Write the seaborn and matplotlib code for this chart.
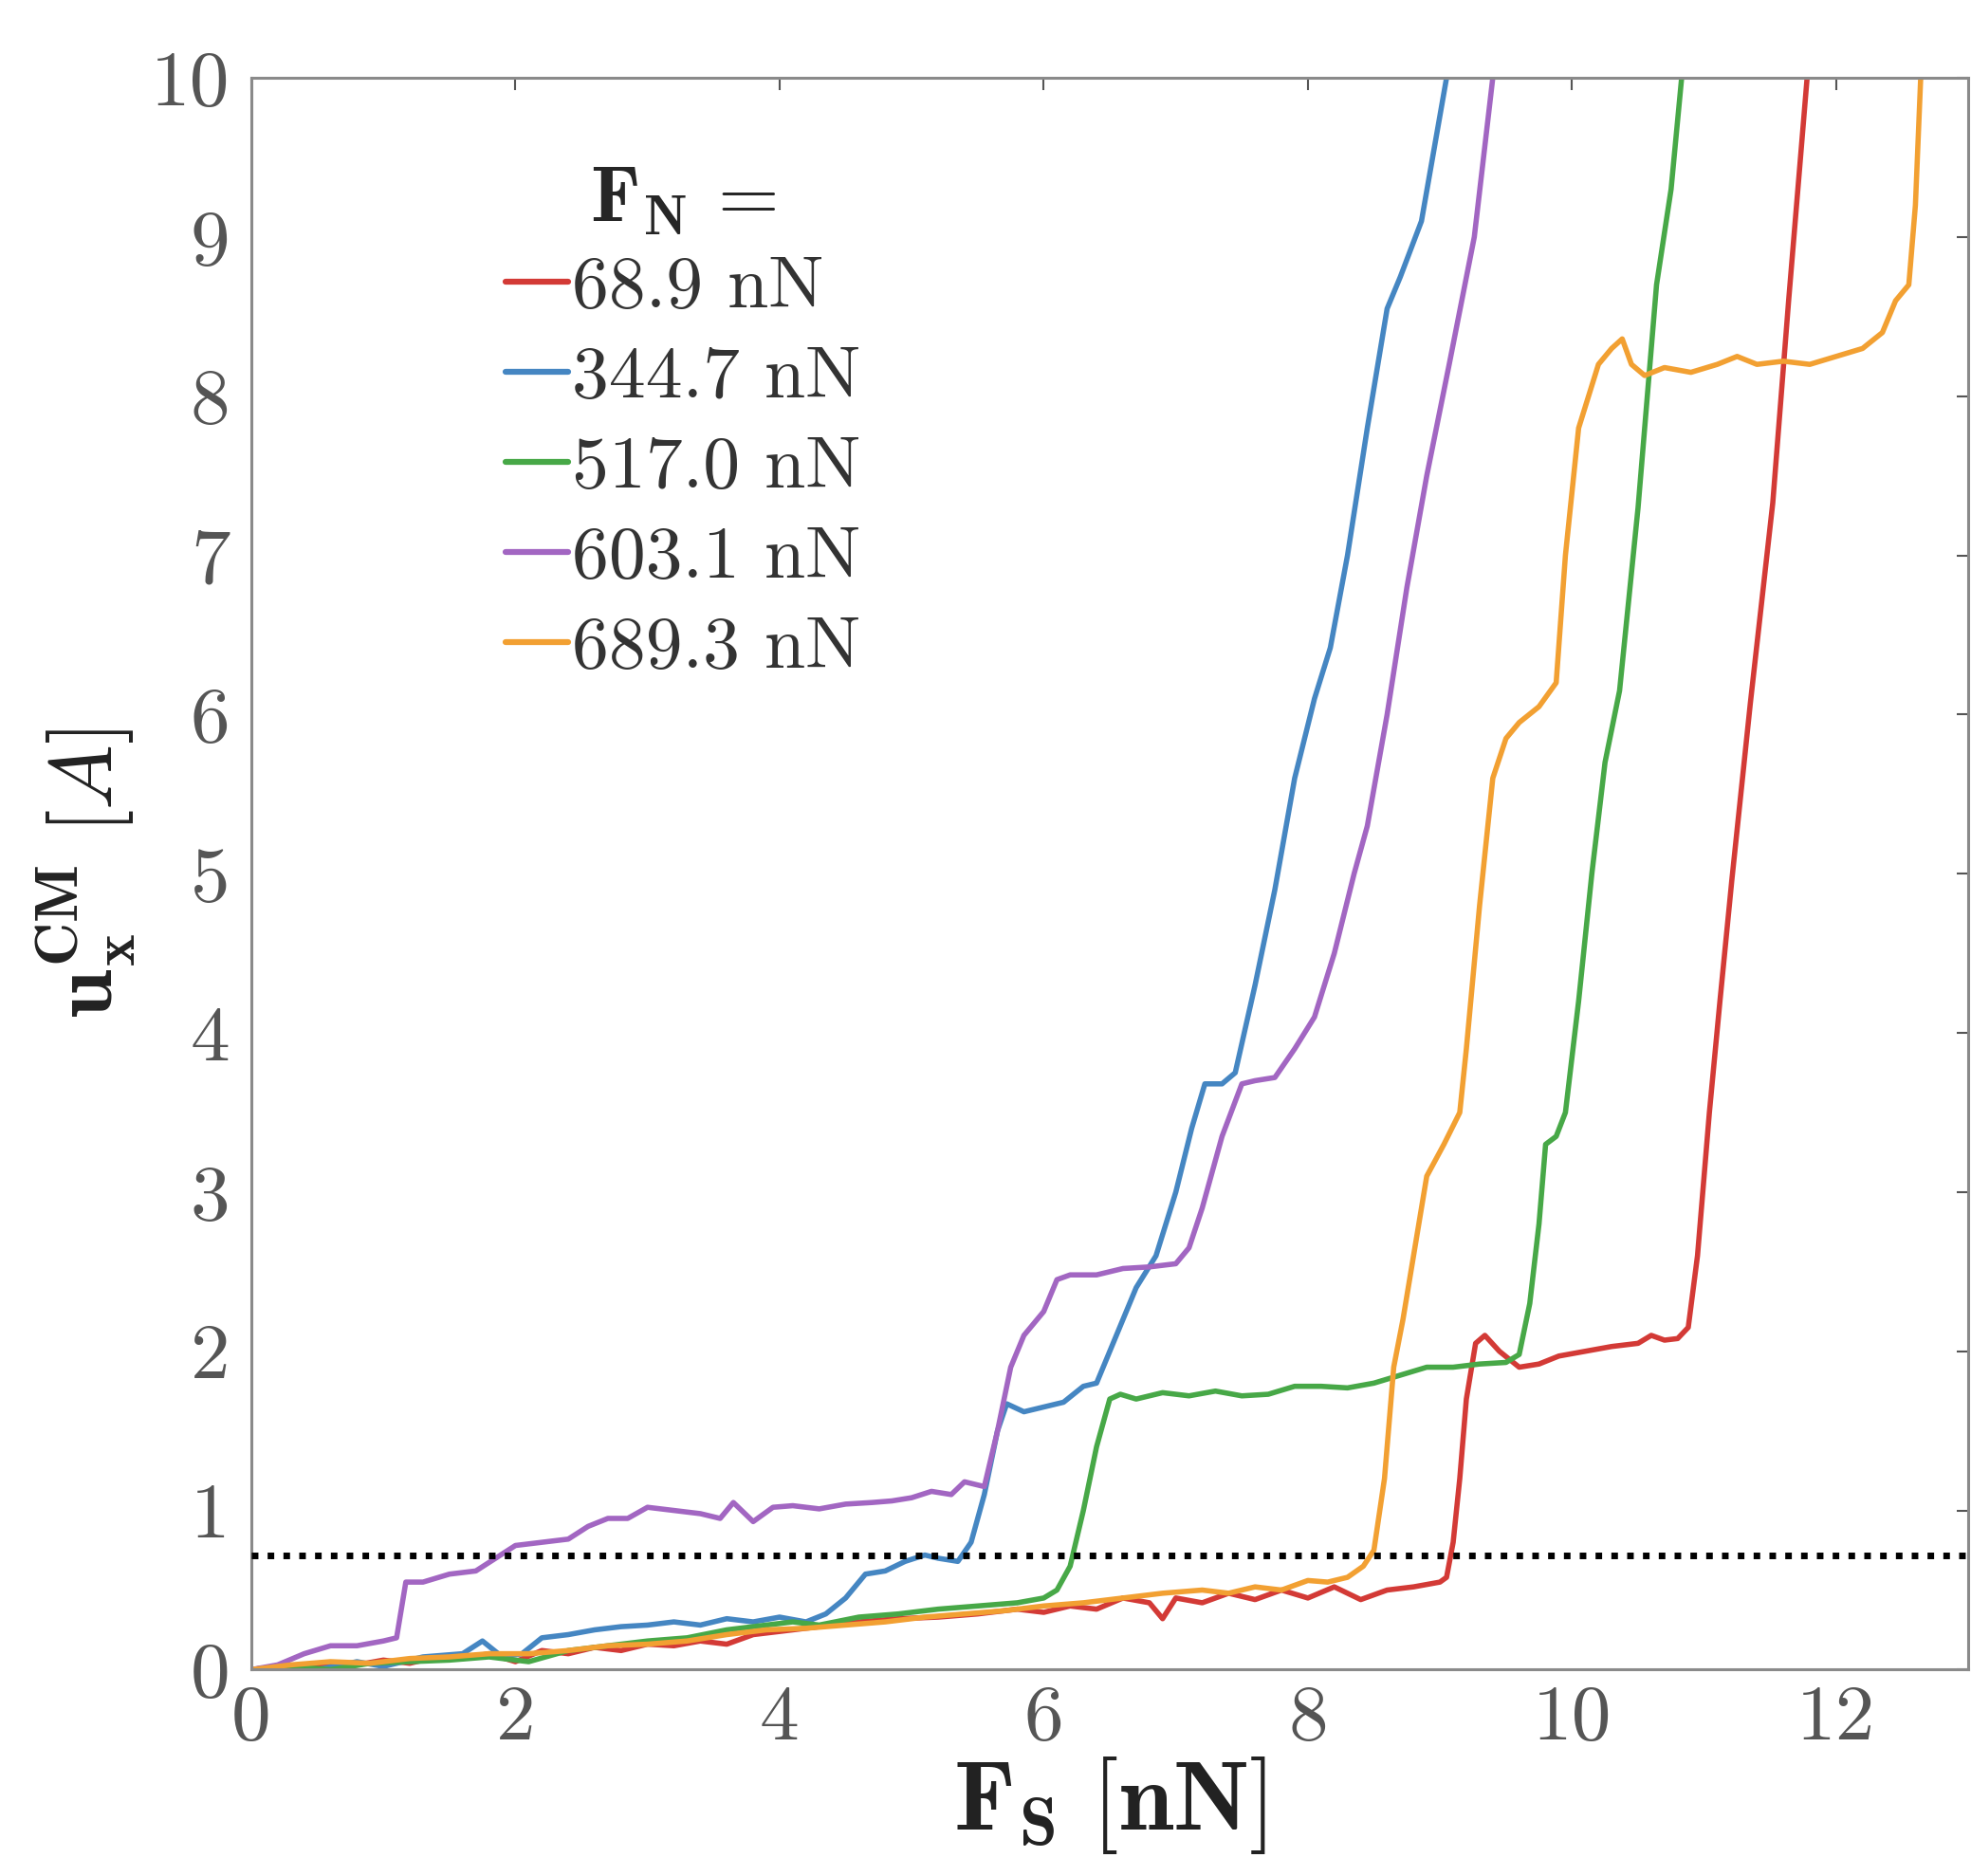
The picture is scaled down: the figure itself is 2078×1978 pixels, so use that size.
import pandas as pd
import seaborn as sns
import matplotlib
matplotlib.use('Agg')
import matplotlib.pyplot as plt

#///// Data
labels = ['68.9 nN', '344.7 nN', '517.0 nN', '603.1 nN', '689.3 nN']
colors = ['#d33a36', '#4586c2', '#47a847', '#a266c2', '#f2a032']
threshold = 0.72

x_red = [0, 0.2, 0.4, 0.6, 0.8, 1.0, 1.2, 1.4, 1.6, 1.8, 2.0, 2.2, 2.4, 2.6, 2.8, 3.0, 3.2, 3.4, 3.6, 3.8,
         4.0, 4.3, 4.6, 4.9, 5.2, 5.5, 5.8, 6.0, 6.2, 6.4, 6.6, 6.8, 6.9, 7.0, 7.2, 7.4, 7.6, 7.8, 8.0, 8.2,
         8.4, 8.6, 8.8, 9.0, 9.05, 9.1, 9.15, 9.2, 9.27, 9.34, 9.45, 9.6, 9.75, 9.9, 10.1, 10.3, 10.5, 10.6,
         10.7, 10.8, 10.88, 10.95, 11.04, 11.12, 11.21, 11.35, 11.52, 11.64, 11.78, 11.8]
y_red = [0, 0.02, 0.01, 0.04, 0.03, 0.06, 0.04, 0.08, 0.07, 0.1, 0.05, 0.12, 0.1, 0.14, 0.12, 0.16, 0.15, 0.18, 0.16, 0.22,
         0.24, 0.27, 0.3, 0.32, 0.33, 0.35, 0.38, 0.36, 0.4, 0.38, 0.45, 0.42, 0.32, 0.45, 0.42, 0.48, 0.44, 0.5, 0.45, 0.52,
         0.44, 0.5, 0.52, 0.55, 0.58, 0.8, 1.2, 1.7, 2.05, 2.1, 2.0, 1.9, 1.92, 1.97, 2.0, 2.03, 2.05, 2.1,
         2.07, 2.08, 2.15, 2.6, 3.5, 4.2, 4.96, 6.07, 7.33, 8.6, 10.0, 10.2]

x_blue = [0, 0.2, 0.5, 0.8, 1.0, 1.3, 1.6, 1.75, 1.9, 2.05, 2.2, 2.4, 2.6, 2.8, 3.0, 3.2, 3.4, 3.6, 3.8, 4.0,
          4.2, 4.35, 4.5, 4.65, 4.8, 4.95, 5.1, 5.2, 5.35, 5.45, 5.55, 5.65, 5.72, 5.85, 6.0, 6.15, 6.3, 6.4,
          6.55, 6.7, 6.85, 7.0, 7.12, 7.22, 7.35, 7.45, 7.6, 7.75, 7.9, 8.05, 8.17, 8.3, 8.45, 8.6, 8.7, 8.86,
          9.05, 9.1]
y_blue = [0, 0.02, 0.0, 0.05, 0.02, 0.08, 0.1, 0.18, 0.08, 0.1, 0.2, 0.22, 0.25, 0.27, 0.28, 0.3, 0.28, 0.32, 0.3, 0.33,
          0.3, 0.35, 0.45, 0.6, 0.62, 0.68, 0.72, 0.7, 0.68, 0.8, 1.1, 1.5, 1.67, 1.62, 1.65, 1.68, 1.78, 1.8,
          2.1, 2.4, 2.6, 3.0, 3.4, 3.68, 3.68, 3.75, 4.3, 4.9, 5.6, 6.1, 6.42, 7.0, 7.8, 8.55, 8.75, 9.1,
          10.0, 10.3]

x_green = [0, 0.3, 0.6, 0.9, 1.2, 1.5, 1.8, 2.1, 2.4, 2.7, 3.0, 3.3, 3.6, 3.9, 4.1, 4.3, 4.6, 4.9, 5.2, 5.5,
           5.8, 6.0, 6.1, 6.2, 6.3, 6.4, 6.5, 6.58, 6.7, 6.9, 7.1, 7.3, 7.5, 7.7, 7.9, 8.1, 8.3, 8.5, 8.7, 8.9,
           9.1, 9.3, 9.5, 9.6, 9.68, 9.75, 9.8, 9.88, 9.95, 10.05, 10.15, 10.25, 10.36, 10.5, 10.64, 10.75, 10.83, 10.86]
y_green = [0, 0.02, 0.0, 0.04, 0.05, 0.06, 0.08, 0.05, 0.12, 0.15, 0.18, 0.2, 0.25, 0.28, 0.3, 0.28, 0.33, 0.35, 0.38, 0.4,
           0.42, 0.45, 0.5, 0.65, 1.0, 1.4, 1.7, 1.73, 1.7, 1.74, 1.72, 1.75, 1.72, 1.73, 1.78, 1.78, 1.77, 1.8, 1.85, 1.9,
           1.9, 1.92, 1.93, 1.98, 2.3, 2.8, 3.3, 3.35, 3.5, 4.2, 5.0, 5.7, 6.15, 7.3, 8.7, 9.3, 10.0, 10.2]

x_purple = [0, 0.2, 0.4, 0.6, 0.8, 1.0, 1.1, 1.17, 1.3, 1.5, 1.7, 1.85, 2.0, 2.2, 2.4, 2.55, 2.7, 2.85, 3.0, 3.2,
            3.4, 3.55, 3.65, 3.8, 3.95, 4.1, 4.3, 4.5, 4.7, 4.85, 5.0, 5.15, 5.3, 5.4, 5.55, 5.65, 5.75, 5.85, 6.0, 6.1,
            6.2, 6.4, 6.6, 6.8, 7.0, 7.1, 7.2, 7.35, 7.5, 7.6, 7.75, 7.9, 8.05, 8.2, 8.35, 8.45, 8.6, 8.75, 8.9, 9.07,
            9.26, 9.4, 9.45]
y_purple = [0, 0.03, 0.1, 0.15, 0.15, 0.18, 0.2, 0.55, 0.55, 0.6, 0.62, 0.7, 0.78, 0.8, 0.82, 0.9, 0.95, 0.95, 1.02, 1.0,
            0.98, 0.95, 1.05, 0.93, 1.02, 1.03, 1.01, 1.04, 1.05, 1.06, 1.08, 1.12, 1.1, 1.18, 1.15, 1.5, 1.9, 2.1, 2.25, 2.45,
            2.48, 2.48, 2.52, 2.53, 2.55, 2.65, 2.9, 3.35, 3.68, 3.7, 3.72, 3.9, 4.1, 4.5, 5.0, 5.3, 6.0, 6.8, 7.5, 8.2,
            9.0, 10.0, 10.3]

x_orange = [0, 0.3, 0.6, 0.9, 1.2, 1.5, 1.8, 2.1, 2.4, 2.7, 3.0, 3.3, 3.6, 3.9, 4.2, 4.5, 4.8, 5.1, 5.4, 5.7,
            6.0, 6.3, 6.6, 6.9, 7.2, 7.4, 7.6, 7.8, 8.0, 8.15, 8.3, 8.42, 8.5, 8.58, 8.65, 8.72, 8.8, 8.9, 9.03, 9.15,
            9.2, 9.3, 9.4, 9.5, 9.6, 9.75, 9.88, 9.95, 10.05, 10.2, 10.3, 10.38, 10.45, 10.55, 10.7, 10.9, 11.1, 11.25,
            11.4, 11.6, 11.8, 12.0, 12.2, 12.35, 12.45, 12.55, 12.6, 12.64, 12.66]
y_orange = [0, 0.03, 0.05, 0.04, 0.07, 0.08, 0.1, 0.1, 0.12, 0.15, 0.16, 0.18, 0.22, 0.25, 0.26, 0.28, 0.3, 0.33, 0.35, 0.37,
            0.4, 0.42, 0.45, 0.48, 0.5, 0.48, 0.52, 0.5, 0.56, 0.55, 0.58, 0.65, 0.75, 1.2, 1.9, 2.2, 2.6, 3.1, 3.3, 3.5,
            3.9, 4.8, 5.6, 5.85, 5.95, 6.05, 6.2, 7.0, 7.8, 8.2, 8.3, 8.36, 8.2, 8.13, 8.18, 8.15, 8.2, 8.25,
            8.2, 8.22, 8.2, 8.25, 8.3, 8.4, 8.6, 8.7, 9.2, 10.0, 10.3]

series_x = [x_red, x_blue, x_green, x_purple, x_orange]
series_y = [y_red, y_blue, y_green, y_purple, y_orange]

#///// Long-form table for seaborn
frames = []
for lab, xs, ys in zip(labels, series_x, series_y):
    frames.append(pd.DataFrame({'Fs': xs, 'u': ys, 'FN': lab}))
df = pd.concat(frames, ignore_index=True)

#///// Style
sns.set_theme(style='white')
plt.rcParams['font.family'] = ['cmr10', 'DejaVu Serif']
plt.rcParams['mathtext.fontset'] = 'cm'
plt.rcParams['axes.formatter.use_mathtext'] = True
grey = '#555555'

fig = plt.figure(figsize=(20.78, 19.78), dpi=100)
ax = fig.add_axes([0.1275, 0.110, 0.8711, 0.8485])

sns.lineplot(data=df, x='Fs', y='u', hue='FN', hue_order=labels,
             palette=dict(zip(labels, colors)), sort=False, estimator=None,
             linewidth=4.0, ax=ax)

# threshold line
ax.axhline(threshold, color='black', linestyle=(0, (1, 1.4)), linewidth=5.0, zorder=5)

# axes
ax.set_xlim(0, 13)
ax.set_ylim(0, 10)
ax.set_xticks([0, 2, 4, 6, 8, 10, 12])
ax.set_yticks(range(0, 11))
ax.set_xticklabels(['0', '2', '4', '6', '8', '10', '12'])
ax.set_yticklabels([str(i) for i in range(11)])
ax.tick_params(axis='both', which='both', direction='in', length=9, width=1.5,
               colors=grey, labelsize=60, top=True, right=True)
ax.tick_params(axis='x', pad=12)
ax.tick_params(axis='y', pad=16)
for s in ax.spines.values():
    s.set_color('#8a8a8a')
    s.set_linewidth(2.2)

ax.set_xlabel(r'$\mathbf{F_S}\ [\mathbf{nN}]$', fontsize=74, color='#222222', labelpad=0)
ax.set_ylabel(r'$\mathbf{u_x^{CM}}\ [A]$', fontsize=66, color='#222222', labelpad=10)

# legend
leg = ax.legend(title=r'$\mathbf{F_N}\,=$', loc='upper left', bbox_to_anchor=(0.148, 0.945),
                frameon=False, fontsize=56, title_fontsize=60, handlelength=0.85,
                handletextpad=0.05, labelspacing=0.33, borderpad=0, borderaxespad=0)
leg._legend_box.sep = 14
for t in leg.get_texts():
    t.set_color('#333333')
for h in leg.get_lines():
    h.set_linewidth(4.5)

fig.savefig('out.png', dpi=100)
